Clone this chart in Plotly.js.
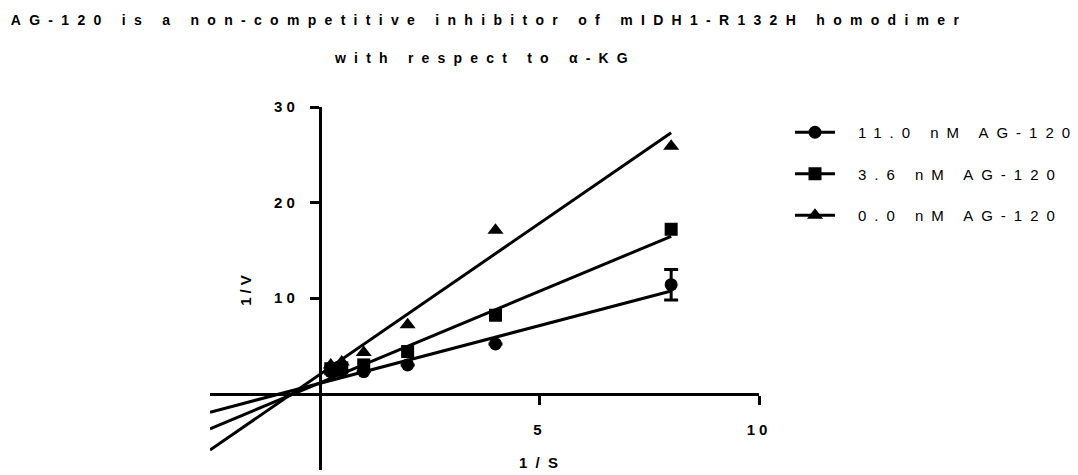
<!DOCTYPE html>
<html><head><meta charset="utf-8">
<script src="https://cdn.plot.ly/plotly-3.0.1.min.js"></script>
<style>
body{margin:0;background:#fff}
.gtitle{letter-spacing:8.3px}
.annotation-text{letter-spacing:8.2px}
.xtick text,.ytick text{letter-spacing:4px}
.ytitle{letter-spacing:4px}
.legendtext{letter-spacing:8px;transform:translateX(18px)}
.legend .scrollbox{clip-path:none !important}
</style></head>
<body><div id="chart" style="width:1078px;height:475px"></div>
<script>
// 1/[S] values (x)
const substrateInv = [0.25, 0.5, 1, 2, 4, 8];
// legend labels
const seriesNames = ['11.0 nM AG-120', '3.6 nM AG-120', '0.0 nM AG-120'];
// 1/V values per series
const vInv11 = [2.3, 2.4, 2.3, 3.0, 5.2, 11.4];
const err11  = [0, 0, 0, 0, 0, 1.6];
const vInv36 = [2.6, 2.7, 3.0, 4.4, 8.2, 17.2];
const vInv00 = [3.0, 3.3, 4.3, 7.2, 17.1, 25.9];
// linear fits (slope, intercept)
const fitSlopes = [1.208, 1.919, 3.163];
const fitIntercepts = [1.07, 1.11, 2.0];
const fitFrom = -2.5, fitTo = 8;
// axes
const xRange = [-2.5, 10];
const yRange = [-8, 30];
const xTicks = [5, 10];
const yTicks = [10, 20, 30];

const seriesY = [vInv11, vInv36, vInv00];
const seriesErr = [err11, null, null];
const symbols = ['circle', 'square', 'triangle-up'];
const sizes = [13, 13, 14];
const FONT = '"Liberation Sans", Arial, sans-serif';

// interleave nulls so "lines+markers" draws no connecting segments
function gapped(arr){ const o=[]; arr.forEach((v,i)=>{ o.push(v); if(i<arr.length-1) o.push(null); }); return o; }

const traces = [];
seriesY.forEach((ys, k) => {
  traces.push({
    x: [fitFrom, fitTo],
    y: [fitSlopes[k]*fitFrom + fitIntercepts[k], fitSlopes[k]*fitTo + fitIntercepts[k]],
    mode: 'lines', line: {color: '#000', width: 3}, showlegend: false, hoverinfo: 'skip'
  });
});
seriesY.forEach((ys, k) => {
  const t = {
    x: gapped(substrateInv), y: gapped(ys),
    mode: 'lines+markers', name: seriesNames[k], legendgroup: 'g'+k,
    line: {color: '#000', width: 3},
    marker: {symbol: symbols[k], size: sizes[k], color: '#000'},
    cliponaxis: false
  };
  if (seriesErr[k]) t.error_y = {type: 'data', array: gapped(seriesErr[k]), color: '#000', thickness: 3, width: 7};
  traces.push(t);
});

const xPos = (0 - yRange[0]) / (yRange[1] - yRange[0]);
const yPos = (0 - xRange[0]) / (xRange[1] - xRange[0]);
const mT = 107.3, mB = 4.5;
const pxPerY = (475 - mT - mB) / (yRange[1] - yRange[0]);

const layout = {
  width: 1078, height: 475,
  margin: {l: 209.7, r: 318.7, t: mT, b: mB},
  paper_bgcolor: '#fff', plot_bgcolor: '#fff',
  font: {family: FONT, color: '#000'},
  title: {text: 'AG-120 is a non-competitive inhibitor of mIDH1-R132H homodimer',
          font: {size: 14, family: FONT, weight: 'bold', color: '#000'},
          x: 489/1078, xanchor: 'center', y: 1 - 20/475, yanchor: 'middle', xref: 'container', yref: 'container'},
  annotations: [
    {text: 'with respect to α-KG', xref: 'paper', yref: 'paper', x: 0.5, y: 1, xshift: 0,
     xanchor: 'center', yanchor: 'middle', yshift: mT - 58, showarrow: false,
     font: {size: 14, family: FONT, weight: 'bold', color: '#000'}},
    {text: '1/S', xref: 'x', yref: 'paper', x: 5, y: xPos, yanchor: 'middle', xanchor: 'center', showarrow: false,
     xshift: 3, yshift: -(463 - (mT + yRange[1] * pxPerY)),
     font: {size: 15, family: FONT, weight: 'bold', color: '#000'}}
  ],
  xaxis: {range: xRange, anchor: 'free', position: xPos, showgrid: false, zeroline: false,
          showline: true, linecolor: '#000', linewidth: 3,
          ticks: 'outside', ticklen: 9, tickwidth: 3, tickcolor: '#000',
          tickvals: xTicks, ticktext: xTicks.map(String), ticklabelstandoff: 12,
          tickfont: {size: 15, family: FONT, weight: 'bold', color: '#000'}},
  yaxis: {range: yRange, anchor: 'free', position: yPos, showgrid: false, zeroline: false,
          showline: true, linecolor: '#000', linewidth: 3,
          ticks: 'outside', ticklen: 9, tickwidth: 3, tickcolor: '#000',
          tickvals: yTicks, ticktext: yTicks.map(String), ticklabelstandoff: 8,
          tickfont: {size: 15, family: FONT, weight: 'bold', color: '#000'},
          title: {text: '1/V', standoff: 17, font: {size: 15, family: FONT, weight: 'bold', color: '#000'}}},
  showlegend: true,
  legend: {xref: 'container', yref: 'container', x: 790/1078, y: 1 - 116/475, xanchor: 'left', yanchor: 'top',
           tracegroupgap: 19, font: {size: 15, family: FONT, color: '#000'}, bgcolor: 'rgba(0,0,0,0)', itemwidth: 40}
};

Plotly.newPlot('chart', traces, layout, {displayModeBar: false, staticPlot: true});
</script>
</body></html>
